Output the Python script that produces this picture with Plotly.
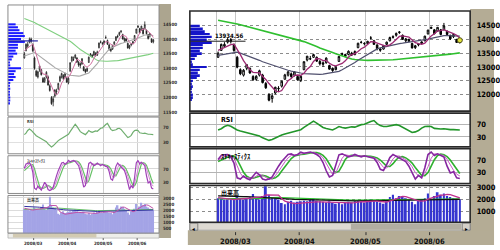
import plotly.graph_objects as go

# ---------------- data ----------------
dates = [
    "2008/02/22", "2008/02/25", "2008/02/26", "2008/02/27", "2008/02/28", "2008/02/29",
    "2008/03/03", "2008/03/04", "2008/03/05", "2008/03/06", "2008/03/07", "2008/03/10",
    "2008/03/11", "2008/03/12", "2008/03/13", "2008/03/14", "2008/03/17", "2008/03/18",
    "2008/03/19", "2008/03/21", "2008/03/24", "2008/03/25", "2008/03/26", "2008/03/27",
    "2008/03/28", "2008/03/31",
    "2008/04/01", "2008/04/02", "2008/04/03", "2008/04/04", "2008/04/07", "2008/04/08",
    "2008/04/09", "2008/04/10", "2008/04/11", "2008/04/14", "2008/04/15", "2008/04/16",
    "2008/04/17", "2008/04/18", "2008/04/21", "2008/04/22", "2008/04/23", "2008/04/24",
    "2008/04/25", "2008/04/28", "2008/04/30",
    "2008/05/01", "2008/05/02", "2008/05/07", "2008/05/08", "2008/05/09", "2008/05/12",
    "2008/05/13", "2008/05/14", "2008/05/15", "2008/05/16", "2008/05/19", "2008/05/20",
    "2008/05/21", "2008/05/22", "2008/05/23", "2008/05/26", "2008/05/27", "2008/05/28",
    "2008/05/29", "2008/05/30",
    "2008/06/02", "2008/06/03", "2008/06/04", "2008/06/05", "2008/06/06", "2008/06/09",
    "2008/06/10", "2008/06/11", "2008/06/12", "2008/06/13",
]

open_ = [13350,13600,13750,13900,14000,13800,13350,12900,12700,12950,
         12950,12650,12550,12700,12700,12400,12000,11850,12050,12200,
         12300,12550,12700,12750,12700,12650,12500,12900,13250,13300,
         13350,13350,13200,13150,13150,13050,12950,12900,13200,13450,
         13450,13450,13500,13450,13700,13900,13850,13850,14050,13950,
         13800,13650,13650,13820,13950,14100,14150,14250,14150,13950,
         14000,13850,13700,13800,13850,13950,14200,14400,14350,14300,
         14350,14350,14300,14150,14100,14000,13900]
high = [13560,13850,13900,14050,14050,13850,13400,12950,12920,13100,
        12980,12700,12700,12900,12750,12450,12050,12050,12280,12300,
        12500,12750,12850,12800,12850,12700,12700,13200,13400,13400,
        13480,13380,13250,13200,13350,13080,12980,13030,13400,13520,
        13480,13600,13550,13600,13880,13950,13900,13950,14120,13980,
        13820,13700,13800,13920,14100,14150,14250,14300,14180,14050,
        14030,13880,13800,13850,13930,14130,14350,14460,14380,14450,
        14380,14600,14320,14170,14200,14020,14000]
low = [13330,13580,13700,13850,13850,13550,12950,12700,12650,12880,
       12750,12500,12500,12650,12400,12200,11750,11700,12000,12100,
       12250,12550,12650,12600,12650,12500,12450,12880,13200,13250,
       13330,13180,13050,13000,13120,12900,12820,12880,13180,13400,
       13350,13420,13400,13420,13680,13850,13780,13800,14000,13800,
       13600,13550,13630,13800,13930,14030,14100,14200,13980,13900,
       13900,13670,13650,13750,13820,13930,14180,14380,14180,14280,
       14150,14330,14150,13980,14050,13870,13850]
close = [13500,13820,13820,13980,13920,13600,12990,12750,12880,13080,
         12780,12530,12660,12860,12430,12240,11790,11950,12260,12220,
         12480,12710,12820,12650,12820,12530,12660,13190,13390,13290,
         13450,13210,13110,13100,13320,12920,12870,12990,13380,13480,
         13390,13570,13430,13560,13860,13890,13850,13930,14050,13820,
         13660,13610,13780,13900,14070,14080,14220,14270,14000,14020,
         13930,13690,13770,13830,13910,14120,14340,14440,14210,14440,
         14180,14490,14180,14020,14180,13890,13970]

ma5 = [13600,13650,13700,13740,13808,13828,13662,13448,13228,13060,
       12896,12804,12786,12782,12652,12544,12396,12254,12134,12092,
       12140,12324,12498,12576,12696,12706,12696,12770,12918,13012,
       13196,13306,13290,13232,13238,13132,13064,13040,13096,13128,
       13222,13362,13450,13486,13562,13662,13718,13818,13916,13908,
       13862,13814,13784,13754,13804,13888,14010,14108,14128,14118,
       14088,13982,13882,13848,13826,13864,13994,14128,14204,14310,
       14322,14352,14300,14262,14210,14152,14048]
ma25 = [13420,13440,13460,13490,13510,13530,13536,13500,13460,13420,
        13380,13340,13290,13240,13190,13150,13110,13070,13020,12990,
        12950,12920,12880,12850,12820,12800,12780,12760,12750,12740,
        12730,12727,12730,12740,12760,12780,12800,12815,12840,12900,
        12960,13030,13090,13160,13240,13310,13380,13450,13530,13600,
        13655,13690,13720,13750,13780,13810,13833,13850,13865,13880,
        13893,13910,13930,13950,13970,13990,14010,14040,14070,14100,
        14125,14135,14135,14135,14131,14125,14120]
ma75 = [14700,14680,14650,14630,14600,14580,14560,14530,14500,14470,
        14440,14410,14380,14360,14330,14300,14270,14240,14210,14180,
        14150,14120,14090,14060,14030,14000,13960,13920,13880,13840,
        13790,13740,13690,13640,13600,13560,13520,13480,13440,13400,
        13360,13320,13290,13270,13255,13245,13240,13238,13238,13238,
        13238,13238,13240,13245,13250,13260,13270,13280,13290,13300,
        13310,13320,13330,13340,13350,13360,13372,13384,13396,13408,
        13420,13435,13450,13465,13480,13495,13510]

rsi = [52,56,63,67,64,58,52,49,46,43,
       41,38,35,33,27,22,19,22,27,32,
       36,39,42,44,47,50,53,60,67,74,
       80,74,66,60,57,55,52,57,63,60,
       58,60,62,61,65,69,70,75,79,82,
       72,66,63,63,65,68,69,66,60,54,
       48,44,46,50,58,63,64,63,57,55,
       55,56,54,53,53,52,52]

stoch_k = [72,85,87,88,80,60,12,8,18,10,
           6,18,30,22,8,5,8,15,35,50,
           65,78,88,90,84,88,96,92,95,96,
           93,88,80,62,35,15,20,50,87,90,
           85,80,83,88,84,80,84,80,78,76,
           62,40,36,55,78,88,82,78,70,65,
           50,30,8,20,12,45,88,96,85,90,
           85,80,50,28,32,12,10]
stoch_d = [70,76,81,87,85,76,51,27,13,12,
           11,11,18,23,20,12,7,9,19,33,
           50,64,77,85,87,87,89,92,94,94,
           95,92,87,77,59,37,23,28,52,76,
           87,85,83,84,85,84,83,81,81,78,
           72,59,46,44,56,74,83,83,77,71,
           62,48,29,19,13,26,48,76,90,90,
           87,85,72,53,37,24,18]
stoch_sd = [65,70,76,81,84,83,71,51,30,17,
            12,11,13,17,20,18,13,9,12,20,
            34,49,64,75,83,86,88,89,92,93,
            94,94,91,85,74,58,40,29,34,52,
            72,83,85,84,84,84,84,83,82,80,
            77,70,59,50,49,58,71,80,81,77,
            70,60,46,32,20,19,29,50,71,85,
            89,87,81,70,54,38,26]

volume = [2100,2050,2000,1950,2000,1950,2200,2050,2000,2050,
          2200,2450,2100,2000,2300,3100,2400,2200,2100,2000,
          1700,1600,1800,1900,1750,1800,1850,1900,1850,1950,
          2050,1900,1850,1800,1750,1850,1700,1650,1750,1600,
          1700,1800,1750,1850,1900,1800,1750,1900,2000,1850,
          1800,1750,1650,1850,2200,2400,2100,2300,2250,2100,
          2000,1800,1600,1900,2000,2100,2500,2000,2300,2600,
          2400,2500,2300,2200,2100,2050,2000]
vol_ma5 = [2150,2120,2080,2030,2020,1990,2020,2030,2040,2050,
           2100,2150,2160,2160,2210,2390,2380,2400,2420,2360,
           2080,1850,1780,1700,1650,1670,1700,1720,1720,1750,
           1780,1800,1800,1790,1770,1750,1730,1710,1700,1690,
           1680,1700,1720,1740,1800,1820,1810,1840,1870,1860,
           1860,1860,1810,1780,1850,1970,2040,2170,2250,2230,
           2150,2090,1950,1880,1860,1880,2020,2100,2180,2300,
           2360,2360,2420,2400,2300,2230,2130]
vol_ma25 = [2050,2050,2050,2050,2050,2050,2055,2060,2060,2065,
            2070,2080,2085,2090,2100,2130,2150,2160,2170,2170,
            2160,2150,2130,2110,2090,2070,2050,2040,2030,2020,
            2010,2000,1995,1990,1985,1980,1975,1970,1965,1960,
            1955,1950,1950,1945,1945,1940,1940,1940,1945,1945,
            1950,1950,1950,1955,1960,1965,1970,1975,1980,1985,
            1990,1990,1990,1995,2000,2005,2010,2015,2020,2025,
            2030,2035,2040,2045,2050,2050,2050]
vol_ma75 = [2300,2300,2300,2290,2280,2270,2260,2250,2240,2230,
            2220,2210,2200,2190,2180,2170,2160,2150,2130,2110,
            2090,2070,2050,2030,2010,2000,1990,1980,1970,1960,
            1950,1940,1930,1920,1910,1900,1895,1890,1885,1880,
            1880,1880,1880,1880,1880,1885,1885,1890,1890,1895,
            1895,1900,1900,1905,1910,1915,1920,1925,1930,1935,
            1940,1940,1940,1945,1950,1955,1960,1965,1970,1975,
            1980,1985,1990,1995,2000,2000,2000]

# price-by-volume profile
profile_price = [14500,14400,14300,14200,14100,14000,13900,13800,13700,13600,
                 13500,13400,13300,13200,13100,13000,12900,12800,12700,12600,
                 12500,12400,12300,12200,12100,12000,11900,11800]
profile_vol = [10,13,15,20,22,17,22,13,13,10,
               12,7,5,2,3,17,10,8,10,7,
               3,2,3,2,2,3,3,2]
peak_price = 13934.56
peak_label = "13934.56"

month_first = ["2008/03/03", "2008/04/01", "2008/05/01", "2008/06/02"]
month_labels = ["2008/03", "2008/04", "2008/05", "2008/06"]

price_ticks_right = [12000, 12500, 13000, 13500, 14000, 14500]
price_ticks_left = [11500, 12000, 12500, 13000, 13500, 14000, 14500]
osc_ticks = [30, 70]
vol_ticks_right = [1000, 2000, 3000]
vol_ticks_left = [500, 1000, 1500, 2000, 2500, 3000]

title_rsi = "RSI"
title_stoch = "ｽﾄｷｬｽﾃｨｸｽ"
title_vol = "出来高"

# ---------------- layout constants ----------------
W, H = 500, 250
def px(x):
    return x / W
def py(y):
    return 1 - y / H

xs = list(range(len(dates)))
month_pos = [dates.index(d) - 0.5 for d in month_first]
grid_pos = [-0.5] + month_pos

NARROW = "Liberation Sans Narrow, Arial Narrow, DejaVu Sans Condensed, Liberation Sans, sans-serif"
JP = "Noto Sans CJK JP, sans-serif"
TAN = "#b4ac95"

# left chart geometry
LX = [px(8), px(160)]
L_RANGE = [-9.65, 79.4]
L_PRICE_Y = [py(115), py(3)]
L_RSI_Y = [py(153), py(116)]
L_STO_Y = [py(193), py(155)]
L_VOL_Y = [py(233), py(195)]
# right chart geometry
RX = [px(191), px(473)]
R_RANGE = [-8.875, 79.25]
R_PRICE_Y = [py(110), py(9)]
R_RSI_Y = [py(146), py(112)]
R_STO_Y = [py(183), py(148)]
R_VOL_Y = [py(222), py(185)]

fig = go.Figure()

def line(x, y, color, width, xa, ya):
    fig.add_trace(go.Scatter(x=x, y=y, mode="lines", line=dict(color=color, width=width),
                             xaxis=xa, yaxis=ya, hoverinfo="skip", showlegend=False))

# ---------- left chart ----------
fig.add_trace(go.Bar(x=profile_vol, y=profile_price, orientation="h", width=70,
                     marker=dict(color="#1a1aff", line=dict(width=0)),
                     xaxis="x9", yaxis="y", hoverinfo="skip", showlegend=False))
line([0, 39], [peak_price, peak_price], "#2020a0", 1.2, "x9", "y")
fig.add_trace(go.Candlestick(x=xs, open=open_, high=high, low=low, close=close,
                             increasing=dict(line=dict(color="#202020", width=0.8), fillcolor="#ffffff"),
                             decreasing=dict(line=dict(color="#202020", width=0.8), fillcolor="#202020"),
                             whiskerwidth=0, xaxis="x", yaxis="y", hoverinfo="skip", showlegend=False))
line(xs, ma75, "#7fcf7f", 1.1, "x", "y")
line(xs, ma25, "#a8a8a8", 1.1, "x", "y")
line(xs, ma5, "#d070a0", 1.0, "x", "y")
line(xs, rsi, "#6fae6f", 1.2, "x2", "y2")
line(xs, stoch_sd, "#66c066", 1.2, "x3", "y3")
line(xs, stoch_d, "#d488d4", 1.0, "x3", "y3")
line(xs, stoch_k, "#a040b8", 1.2, "x3", "y3")
fig.add_trace(go.Bar(x=xs, y=volume, width=0.9, marker=dict(color="#a4a4e6", line=dict(width=0)),
                     xaxis="x4", yaxis="y4", hoverinfo="skip", showlegend=False))
line(xs, vol_ma25, "#66c066", 1.0, "x4", "y4")
line(xs, vol_ma75, "#3030a0", 1.0, "x4", "y4")
line(xs, vol_ma5, "#c050a8", 1.0, "x4", "y4")

# ---------- right chart ----------
fig.add_trace(go.Bar(x=profile_vol, y=profile_price, orientation="h", width=72,
                     marker=dict(color="#1414c8", line=dict(width=0)),
                     xaxis="x10", yaxis="y5", hoverinfo="skip", showlegend=False))
line([0, 56], [peak_price, peak_price], "#202020", 1.0, "x10", "y5")
fig.add_trace(go.Candlestick(x=xs, open=open_, high=high, low=low, close=close,
                             increasing=dict(line=dict(color="#000000", width=1), fillcolor="#ffffff"),
                             decreasing=dict(line=dict(color="#000000", width=1), fillcolor="#000000"),
                             whiskerwidth=0, xaxis="x5", yaxis="y5", hoverinfo="skip", showlegend=False))
line(xs, ma75, "#2fbf2f", 1.6, "x5", "y5")
line(xs, ma25, "#50506e", 1.2, "x5", "y5")
line(xs, ma5, "#9c2a72", 1.3, "x5", "y5")
fig.add_trace(go.Scatter(x=[xs[-1]], y=[close[-1]], mode="markers",
                         marker=dict(size=5, color="#e2e23a", line=dict(color="#505020", width=1)),
                         xaxis="x5", yaxis="y5", hoverinfo="skip", showlegend=False))
line(xs, rsi, "#22962a", 1.6, "x6", "y6")
line(xs, stoch_sd, "#2fb02f", 1.6, "x7", "y7")
line(xs, stoch_d, "#c85ac8", 1.0, "x7", "y7")
line(xs, stoch_k, "#8526a0", 1.6, "x7", "y7")
fig.add_trace(go.Bar(x=xs, y=volume, width=0.6, marker=dict(color="#3535d0", line=dict(width=0)),
                     xaxis="x8", yaxis="y8", hoverinfo="skip", showlegend=False))
line(xs, vol_ma25, "#2fc02f", 1.3, "x8", "y8")
line(xs, vol_ma75, "#101010", 1.3, "x8", "y8")
line(xs, vol_ma5, "#c0308e", 1.3, "x8", "y8")

# ---------------- axes ----------------
def xaxis(domain, rng, anchor, gridcolor):
    return dict(domain=domain, range=rng, anchor=anchor, tickvals=grid_pos, showticklabels=False,
                ticks="", showgrid=True, gridcolor=gridcolor, gridwidth=1, zeroline=False,
                showline=False, fixedrange=True, rangeslider=dict(visible=False))

def yaxis(domain, rng, anchor, tickvals, gridcolor, dash, size, ticklen, color="#000000"):
    return dict(domain=domain, range=rng, anchor=anchor, side="right", tickvals=tickvals,
                tickformat="d",
                ticks="outside", ticklen=ticklen, tickcolor="rgba(0,0,0,0)",
                tickfont=dict(family=NARROW, size=size, color=color, weight="bold"),
                showgrid=True, gridcolor=gridcolor, griddash=dash, gridwidth=1,
                zeroline=False, showline=False, fixedrange=True)

lay = dict(
    width=W, height=H, autosize=False, margin=dict(l=0, r=0, t=0, b=0, pad=0),
    paper_bgcolor="#ffffff", plot_bgcolor="#ffffff", showlegend=False, hovermode=False,
    barmode="overlay",
)
# left
lay["xaxis"] = xaxis(LX, L_RANGE, "y", "#cfcfcf")
lay["xaxis2"] = xaxis(LX, L_RANGE, "y2", "#cfcfcf")
lay["xaxis3"] = xaxis(LX, L_RANGE, "y3", "#cfcfcf")
lay["xaxis4"] = xaxis(LX, L_RANGE, "y4", "#cfcfcf")
lay["yaxis"] = yaxis(L_PRICE_Y, [11366, 15162], "x", price_ticks_left, "#e0e0e0", "solid", 4.5, 2, "#303030")
lay["yaxis2"] = yaxis(L_RSI_Y, [0.7, 99], "x2", osc_ticks, "#e0e0e0", "solid", 4.5, 2, "#303030")
lay["yaxis3"] = yaxis(L_STO_Y, [-4, 110], "x3", osc_ticks, "#d8d8d8", "solid", 4.5, 2, "#303030")
lay["yaxis4"] = yaxis(L_VOL_Y, [80, 3210], "x4", vol_ticks_left, "#dcdcdc", "solid", 4.5, 2, "#303030")
# right
lay["xaxis5"] = xaxis(RX, R_RANGE, "y5", "#c4c4c4")
lay["xaxis6"] = xaxis(RX, R_RANGE, "y6", "#c4c4c4")
lay["xaxis7"] = xaxis(RX, R_RANGE, "y7", "#c4c4c4")
lay["xaxis8"] = xaxis(RX, R_RANGE, "y8", "#c4c4c4")
lay["yaxis5"] = yaxis(R_PRICE_Y, [11393, 15036], "x5", price_ticks_right, "#8c8c8c", "dot", 7.5, 4)
lay["yaxis6"] = yaxis(R_RSI_Y, [-1.5, 105.6], "x6", osc_ticks, "#b4b4b4", "solid", 7.5, 4)
lay["yaxis7"] = yaxis(R_STO_Y, [-6.5, 106.5], "x7", osc_ticks, "#b4b4b4", "solid", 7.5, 4)
lay["yaxis8"] = yaxis(R_VOL_Y, [90, 3170], "x8", vol_ticks_right, "#8c8c8c", "dot", 7.5, 4)
# profile axes
lay["xaxis9"] = dict(overlaying="x", anchor="y", range=[0, 197], visible=False, fixedrange=True)
lay["xaxis10"] = dict(overlaying="x5", anchor="y5", range=[0, 282], visible=False, fixedrange=True)

# ---------------- decorations ----------------
shapes = []
def rect(x0, y0, x1, y1, fill=None, lc=None, lw=0, layer="below"):
    shapes.append(dict(type="rect", xref="paper", yref="paper", x0=px(x0), x1=px(x1),
                       y0=py(y1), y1=py(y0), fillcolor=fill if fill else "rgba(0,0,0,0)",
                       line=dict(color=lc if lc else "rgba(0,0,0,0)", width=lw), layer=layer))

# right chart frame pieces
rect(473, 7, 497, 245, TAN)
rect(189, 230, 497, 245, TAN)
rect(191, 223, 473, 230, "#dedad2", "#909090", 0.6)
rect(353, 223.5, 464, 229.5, "#b2aea2")
rect(191, 223, 199, 230, "#d4d0c8", "#707070", 0.8, "above")
rect(465, 223, 473, 230, "#d4d0c8", "#707070", 0.8, "above")
for (y0, y1) in [(9, 110), (112, 146), (148, 183), (185, 222)]:
    rect(191, y0, 473, y1, None, "#2a2a2a", 1.6, "above")
# left chart frame pieces
rect(160, 2, 172, 238, "#aca58f")
rect(8, 233, 160, 238, "#eeeeea", "#a0a0a0", 0.6)
rect(13, 233.5, 97, 237.5, "#d2cab2")
for (y0, y1) in [(3, 115), (116, 153), (155, 193), (195, 233)]:
    rect(8, y0, 160, y1, None, "#8a8a8a", 1.0, "above")

# month tick marks under the charts
for p in month_pos:
    shapes.append(dict(type="line", xref="x8", yref="paper", x0=p, x1=p, y0=py(235), y1=py(232),
                       line=dict(color="#303030", width=1), layer="above"))
    shapes.append(dict(type="line", xref="x4", yref="paper", x0=p, x1=p, y0=py(240), y1=py(238),
                       line=dict(color="#606060", width=1), layer="above"))
lay["shapes"] = shapes

ann = []
def text(x, y, s, size, family=NARROW, color="#000000", xanchor="left", weight="bold"):
    ann.append(dict(x=px(x), y=py(y), xref="paper", yref="paper", text=s, showarrow=False,
                    xanchor=xanchor, yanchor="top", font=dict(family=family, size=size, color=color,
                                                              weight=weight)))
text(220, 112.5, title_rsi, 7)
text(220, 148.5, title_stoch, 6.5, JP)
text(220, 185.5, title_vol, 6, JP)
text(25, 116, title_rsi, 4, color="#404040")
text(25, 155, title_stoch, 4, JP, "#404040")
text(25, 195, title_vol, 4, JP, "#404040")
text(195, 223, "◂", 6, xanchor="center", weight="normal")
text(469, 223, "▸", 6, xanchor="center", weight="normal")
ann.append(dict(x=56, y=peak_price, xref="x10", yref="y5", text=peak_label, showarrow=False,
                xanchor="right", yanchor="bottom", yshift=0,
                font=dict(family=NARROW, size=6, color="#000000", weight="bold")))
# month labels
for p, lab in zip(month_pos, month_labels):
    ann.append(dict(x=p, y=py(235), xref="x8", yref="paper", text=lab, showarrow=False,
                    xanchor="center", yanchor="top",
                    font=dict(family=NARROW, size=7.5, color="#101010", weight="bold")))
    ann.append(dict(x=p, y=py(238.5), xref="x4", yref="paper", text=lab, showarrow=False,
                    xanchor="center", yanchor="top",
                    font=dict(family=NARROW, size=4.5, color="#303030", weight="bold")))
lay["annotations"] = ann

fig.update_layout(**lay)
fig.write_html("out.html")
